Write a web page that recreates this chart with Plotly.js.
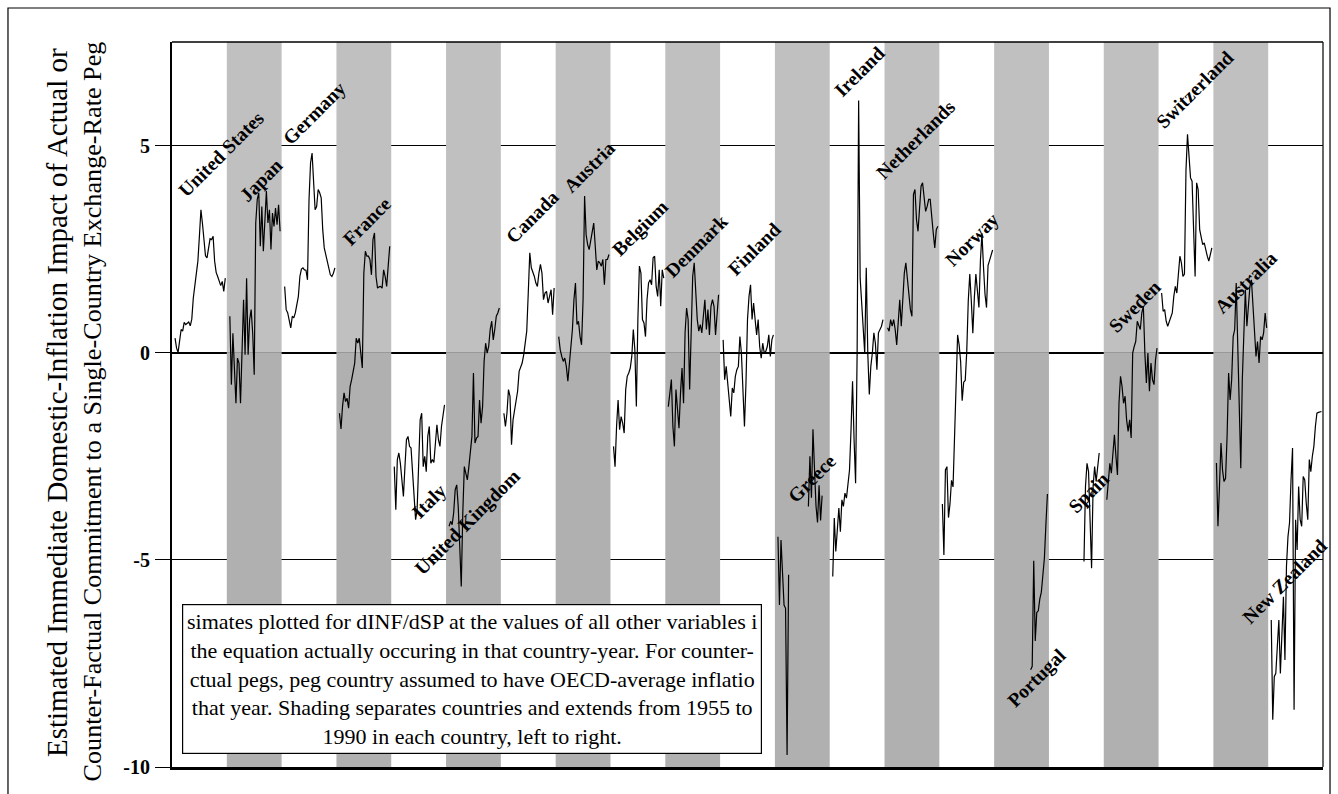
<!DOCTYPE html>
<html>
<head>
<meta charset="utf-8">
<script src="https://cdn.plot.ly/plotly-3.0.1.min.js"></script>
<style>
  html, body { margin: 0; padding: 0; background: #ffffff; }
  #chart { width: 1338px; height: 794px; }
</style>
</head>
<body>
<div id="chart"></div>
<script>
// Countries in plotting order, left to right; each gets a 1955-1990 slot.
const countries = [
  "United States", "Japan", "Germany", "France", "Italy", "United Kingdom",
  "Canada", "Austria", "Belgium", "Denmark", "Finland", "Greece", "Ireland",
  "Netherlands", "Norway", "Portugal", "Spain", "Sweden", "Switzerland",
  "Australia", "New Zealand"
];

// Years with an estimate (null where a country has no value that year).
const years = [1957, 1958, 1959, 1960, 1961, 1962, 1963, 1964, 1965, 1966,
  1967, 1968, 1969, 1970, 1971, 1972, 1973, 1974, 1975, 1976, 1977, 1978,
  1979, 1980, 1981, 1982, 1983, 1984, 1985, 1986, 1987, 1988, 1989, 1990];

// Estimated dINF/dSP by country-year.
const unitedStates = [0.35, 0.11, 0.01, 0.30, 0.56, 0.52, 0.73, 0.68, 0.70, 0.74, 0.65, 0.81, 1.32, 1.64, 1.84, 2.21, 2.81, 3.45, 3.12, 2.67, 2.34, 2.29, 2.49, 2.75, 2.73, 2.81, 2.21, 1.94, 1.84, 1.75, 1.62, 1.72, 1.48, 1.80];
const japan = [0.88, -0.77, 0.47, -0.33, -1.22, -0.13, -0.25, -1.22, 0.07, 1.28, -0.05, 1.80, -0.05, 0.80, 1.04, 0.47, -0.53, 3.13, 3.70, 3.86, 2.57, 3.53, 2.45, 3.21, 3.90, 3.13, 3.45, 2.49, 3.37, 3.05, 3.49, 3.09, 3.57, 2.93];
const germany = [1.60, 1.04, 0.96, 0.76, 0.60, 0.88, 0.84, 0.96, 1.16, 1.36, 1.84, 2.02, 2.05, 2.00, 1.99, 1.76, 3.70, 4.58, 4.82, 4.06, 3.45, 3.53, 3.94, 3.86, 3.74, 2.97, 2.53, 2.37, 2.21, 2.09, 1.88, 1.84, 1.92, 2.05];
const france = [-1.46, -1.84, -1.30, -0.97, -1.18, -1.10, -1.34, -0.81, -0.65, -0.45, -0.25, 0.35, 0.23, 0.35, -0.01, -0.37, 1.92, 2.45, 2.33, 2.33, 2.25, 1.88, 2.73, 2.89, 1.84, 1.56, 1.59, 1.60, 1.56, 2.00, 1.84, 1.60, 2.09, 2.57];
const italy = [-2.75, -3.79, -2.58, -2.42, -2.67, -3.07, -3.47, -2.75, -2.10, -2.02, -2.26, -2.30, -2.83, -3.39, -4.03, -3.79, -2.75, -1.62, -1.46, -2.75, -2.50, -2.87, -2.02, -1.78, -2.67, -2.58, -2.65, -2.10, -1.74, -2.10, -2.26, -1.78, -1.46, -1.26];
const unitedKingdom = [-4.19, -4.07, -4.15, -3.87, -3.31, -3.19, -3.71, -4.84, -5.64, -3.87, -2.75, -2.91, -3.07, -2.75, -2.30, -2.02, -0.49, -2.18, -2.06, -2.02, -1.14, -1.70, -1.30, -0.21, 0.23, -0.01, 0.15, 0.56, 0.76, 0.31, 0.56, 0.88, 0.96, 1.08];
const canada = [-1.46, -1.78, -1.46, -0.89, -1.05, -2.22, -1.62, -1.38, -1.26, -0.93, -0.45, -0.37, -0.25, -0.05, 0.31, 0.52, 1.44, 2.41, 2.05, 1.96, 1.84, 1.68, 1.60, 1.92, 2.13, 1.92, 1.28, 1.44, 1.48, 1.20, 1.36, 1.52, 0.92, 1.56];
const austria = [0.39, 0.07, -0.09, -0.21, -0.13, -0.33, -0.69, -0.25, 0.15, 0.56, 1.28, 1.68, 0.68, 0.76, 0.39, 0.19, 1.28, 3.78, 2.85, 2.61, 2.49, 2.73, 2.97, 3.13, 2.57, 2.00, 2.21, 2.17, 2.09, 2.25, 1.64, 2.25, 2.25, 2.37];
const belgium = [-2.26, -2.75, -1.78, -1.14, -1.86, -1.54, -1.70, -1.94, -0.89, -0.57, -0.49, -0.37, -0.09, 0.56, 0.07, -1.30, 0.80, 2.09, 1.92, 0.80, 0.72, 0.39, 1.28, 1.68, 1.76, 1.64, 2.29, 2.33, 1.60, 1.36, 2.00, 1.12, 2.00, 1.80];
const denmark = [-1.30, -0.97, -0.65, -1.78, -2.26, -0.89, -1.38, -1.82, -0.97, -0.37, -1.22, 0.48, 1.08, 0.80, -0.89, 0.64, 1.84, 2.17, 1.28, 0.80, 0.52, 0.68, 0.48, 0.88, 1.28, 0.56, 1.04, 0.43, 1.12, 1.28, 1.12, 0.43, 1.04, 1.40];
const finland = [0.31, -0.65, -0.33, -0.73, -1.22, -1.54, -0.85, -0.97, -0.57, -0.41, -0.33, 0.39, -0.01, -1.05, -1.78, -0.73, 0.80, 1.36, 1.64, 0.80, 1.20, 0.80, 0.43, 0.80, 0.15, -0.13, 0.23, -0.01, 0.03, 0.15, 0.43, -0.09, 0.31, 0.43];
const greece = [-4.44, -6.09, -4.52, -5.30, -6.09, -6.17, -9.71, -5.36, null, null, null, null, null, null, null, null, null, null, null, null, -3.71, -2.50, -3.50, -1.85, -2.80, -3.70, -4.10, -3.20, -4.05, -3.45, null, null, null, null];
const ireland = [-5.40, -3.99, -4.80, -4.11, -3.75, -4.32, -3.55, -3.71, -3.39, -3.51, -3.15, -2.83, -1.86, -0.69, -2.10, -3.15, -0.01, 6.09, 1.80, 1.20, 0.48, -0.01, 2.05, -0.01, -1.01, -0.33, -0.01, 0.48, 0.23, -0.41, 0.48, 0.56, 0.64, 0.80];
const netherlands = [0.60, 0.52, 0.80, 0.64, 0.80, 0.56, 0.19, 0.76, 1.28, 0.64, 1.36, 1.92, 2.17, 1.76, 1.28, 1.04, 0.88, 3.82, 3.94, 3.21, 2.93, 3.53, 4.02, 4.10, 3.78, 3.41, 3.53, 3.70, 3.70, 3.21, 2.89, 2.53, 2.97, 3.05];
const norway = [-3.65, -4.88, -2.83, -2.75, -3.98, -3.65, -3.08, -3.24, -2.02, -0.79, 0.43, 0.19, -0.22, -1.16, -0.71, -0.67, 0.02, 1.25, 1.90, 1.25, 0.47, 1.33, 1.90, 1.50, 1.09, 2.23, 2.88, 2.07, 1.41, 1.09, 2.11, 2.23, 2.39, 2.48];
const portugal = [null, null, null, null, null, null, null, null, null, null, null, null, null, null, null, null, null, null, null, null, null, null, -7.65, -7.57, -5.02, -6.96, -6.27, -6.23, -5.94, -5.78, -5.37, -4.96, -4.14, -3.41];
const spain = [null, null, null, null, null, null, null, null, null, null, null, null, null, null, null, null, null, null, null, null, null, -5.04, -3.23, -2.67, -2.87, -4.03, -5.20, -3.23, -2.75, -3.11, -2.83, -2.42, null, null];
const sweden = [-3.55, -3.07, -2.67, -2.91, -2.42, -1.98, -2.50, -2.95, -1.22, -0.57, -0.81, -1.22, -1.05, -1.62, -1.90, -1.62, -2.06, -0.01, 0.15, 0.27, 0.76, 0.64, 0.56, 0.96, 1.12, -0.01, -0.73, -0.01, -0.93, -0.25, -0.65, -0.77, -0.17, 0.11];
const switzerland = [1.44, 1.00, 1.04, 0.76, 0.64, 0.76, 0.84, 0.96, 1.36, 1.60, 1.44, 2.00, 2.33, 2.17, 1.84, 1.90, 4.40, 5.27, 4.66, 4.22, 4.14, 2.97, 1.84, 4.10, 3.94, 2.97, 2.73, 2.61, 2.65, 2.45, 2.33, 2.21, 2.41, 2.53];
const australia = [-2.66, -4.19, -3.23, -2.18, -2.83, -3.11, -3.03, -2.02, -0.49, -1.14, -0.65, 0.39, 0.56, 1.68, 0.19, -1.30, -2.79, -0.65, 0.64, 1.52, 0.64, 1.12, 1.60, 1.76, 1.12, 0.64, -0.09, 0.27, -0.25, 0.39, 0.31, 0.48, 0.96, 0.60];
const newZealand = [-6.45, -8.86, -7.82, -7.74, -7.09, -6.45, -7.74, -6.93, -5.89, -7.42, -5.16, -4.44, -4.11, -3.07, -2.30, -8.62, -4.03, -4.76, -3.23, -4.03, -4.19, -2.99, -3.07, -3.63, -4.03, -2.58, -2.87, -2.50, -2.26, -1.78, -1.46, -1.44, -1.42, -1.42];

const series = [unitedStates, japan, germany, france, italy, unitedKingdom,
  canada, austria, belgium, denmark, finland, greece, ireland, netherlands,
  norway, portugal, spain, sweden, switzerland, australia, newZealand];

// Y-axis ticks.
const tickValues = [-10, -5, 0, 5];
const tickLabels = ["-10", "-5", "0", "5"];

// Where each country name sits (x in slot units, y in estimate units).
const labelAnchors = [
  [32.2, 4.78], [58.5, 4.15], [93.3, 5.77], [128.1, 3.16], [168.8, -3.60],
  [193.8, -4.10], [237.1, 3.28], [273.9, 4.47], [307.4, 2.99], [344.2, 2.56],
  [382.3, 2.49], [420.4, -3.04], [451.9, 6.78], [488.7, 5.14], [525.5, 2.73],
  [568.1, -7.84], [602.3, -3.38], [632.5, 1.11], [671.9, 6.35], [705.4, 1.69],
  [731.0, -5.53]
];

// Y-axis title, one entry per line.
const yTitleLines = [
  "Estimated Immediate Domestic-Inflation Impact of Actual or",
  "Counter-Factual Commitment to a Single-Country Exchange-Rate Peg"
];

const FIRST_YEAR = 1955;           // slot starts at 1955 ...
const SLOT = 1990 - FIRST_YEAR + 1; // ... and runs through 1990
const Y_MIN = -10, Y_MAX = 7.5;
const SERIF = "Liberation Serif";

const traces = series.map((vals, i) => ({
  type: "scatter",
  mode: "lines",
  name: countries[i],
  x: years.map(yr => i * SLOT + (yr - FIRST_YEAR)),
  y: vals,
  connectgaps: false,
  line: { color: "#000000", width: 1.2 },
  hoverinfo: "skip",
  showlegend: false
}));

// Alternate countries are shaded; lighter above zero, darker below.
const shapes = [];
countries.forEach((c, i) => {
  if (i % 2 === 1) {
    shapes.push({
      type: "rect", xref: "x", yref: "y", layer: "between",
      x0: i * SLOT, x1: (i + 1) * SLOT, y0: 0, y1: Y_MAX,
      fillcolor: "rgb(192,192,192)", line: { width: 0 }
    });
    shapes.push({
      type: "rect", xref: "x", yref: "y", layer: "between",
      x0: i * SLOT, x1: (i + 1) * SLOT, y0: Y_MIN, y1: 0,
      fillcolor: "rgb(176,176,176)", line: { width: 0 }
    });
  }
});
// Plot frame: top and right edges.
shapes.push({ type: "line", xref: "paper", yref: "paper", x0: 0, x1: 1, y0: 1, y1: 1,
  line: { color: "#000", width: 1.5 } });
shapes.push({ type: "line", xref: "paper", yref: "paper", x0: 1, x1: 1, y0: 0, y1: 1,
  line: { color: "#000", width: 1.2 } });
// Outer border around the whole figure.
shapes.push({ type: "rect", xref: "paper", yref: "paper",
  x0: -0.1425, x1: 1.0061, y0: -0.06, y1: 1.0469,
  line: { color: "#000", width: 1.2 }, fillcolor: "rgba(0,0,0,0)" });

const annotations = countries.map((c, i) => ({
  text: "<b>" + c + "</b>",
  x: labelAnchors[i][0], y: labelAnchors[i][1],
  xref: "x", yref: "y",
  textangle: -45,
  showarrow: false,
  xanchor: "center", yanchor: "middle",
  font: { family: SERIF, size: 19.5, color: "#000" }
}));

// Both title lines run the full height of the plot.
annotations.push({
  text: yTitleLines[0],
  xref: "paper", yref: "paper", x: -0.0999, y: 0.502,
  textangle: -90, showarrow: false,
  xanchor: "center", yanchor: "middle",
  font: { family: SERIF, size: 29, color: "#000" }
});
annotations.push({
  text: yTitleLines[1],
  xref: "paper", yref: "paper", x: -0.0695, y: 0.4904,
  textangle: -90, showarrow: false,
  xanchor: "center", yanchor: "middle",
  font: { family: SERIF, size: 26.2, color: "#000" }
});

annotations.push({
  text: "simates plotted for dINF/dSP at the values of all other variables i<br>" +
        "the equation actually occuring in that country-year. For counter-<br>" +
        "ctual pegs, peg country assumed to have OECD-average inflatio<br>" +
        "that year. Shading separates countries and extends from 1955 to<br>" +
        "1990 in each country, left to right.",
  xref: "paper", yref: "paper", x: 0.2606, y: 0.1214,
  xanchor: "center", yanchor: "middle",
  width: 576, height: 146, align: "center", valign: "middle",
  showarrow: false,
  bgcolor: "#ffffff", bordercolor: "#000000", borderwidth: 1.2,
  font: { family: SERIF, size: 22, color: "#000" }
});

const layout = {
  width: 1338, height: 794,
  margin: { l: 172, r: 15, t: 42, b: 27, pad: 0 },
  paper_bgcolor: "#ffffff",
  plot_bgcolor: "#ffffff",
  showlegend: false,
  font: { family: SERIF, color: "#000" },
  xaxis: {
    range: [0, countries.length * SLOT],
    showgrid: false, zeroline: false,
    showticklabels: false, ticks: "",
    showline: true, linecolor: "#000", linewidth: 3, mirror: false,
    fixedrange: true
  },
  yaxis: {
    range: [Y_MIN, Y_MAX],
    tickmode: "array", tickvals: tickValues, ticktext: tickLabels.map(t => "<b>" + t + "</b>"),
    ticks: "outside", ticklen: 15, tickwidth: 1, tickcolor: "#000",
    ticklabelstandoff: 1,
    tickfont: { family: SERIF, size: 20, color: "#000" },
    showgrid: true, gridcolor: "#000", gridwidth: 1,
    zeroline: true, zerolinecolor: "#000", zerolinewidth: 2,
    showline: true, linecolor: "#000", linewidth: 2, mirror: false,
    fixedrange: true
  },
  shapes: shapes,
  annotations: annotations
};

Plotly.newPlot("chart", traces, layout, { displayModeBar: false, staticPlot: true });
</script>
</body>
</html>
